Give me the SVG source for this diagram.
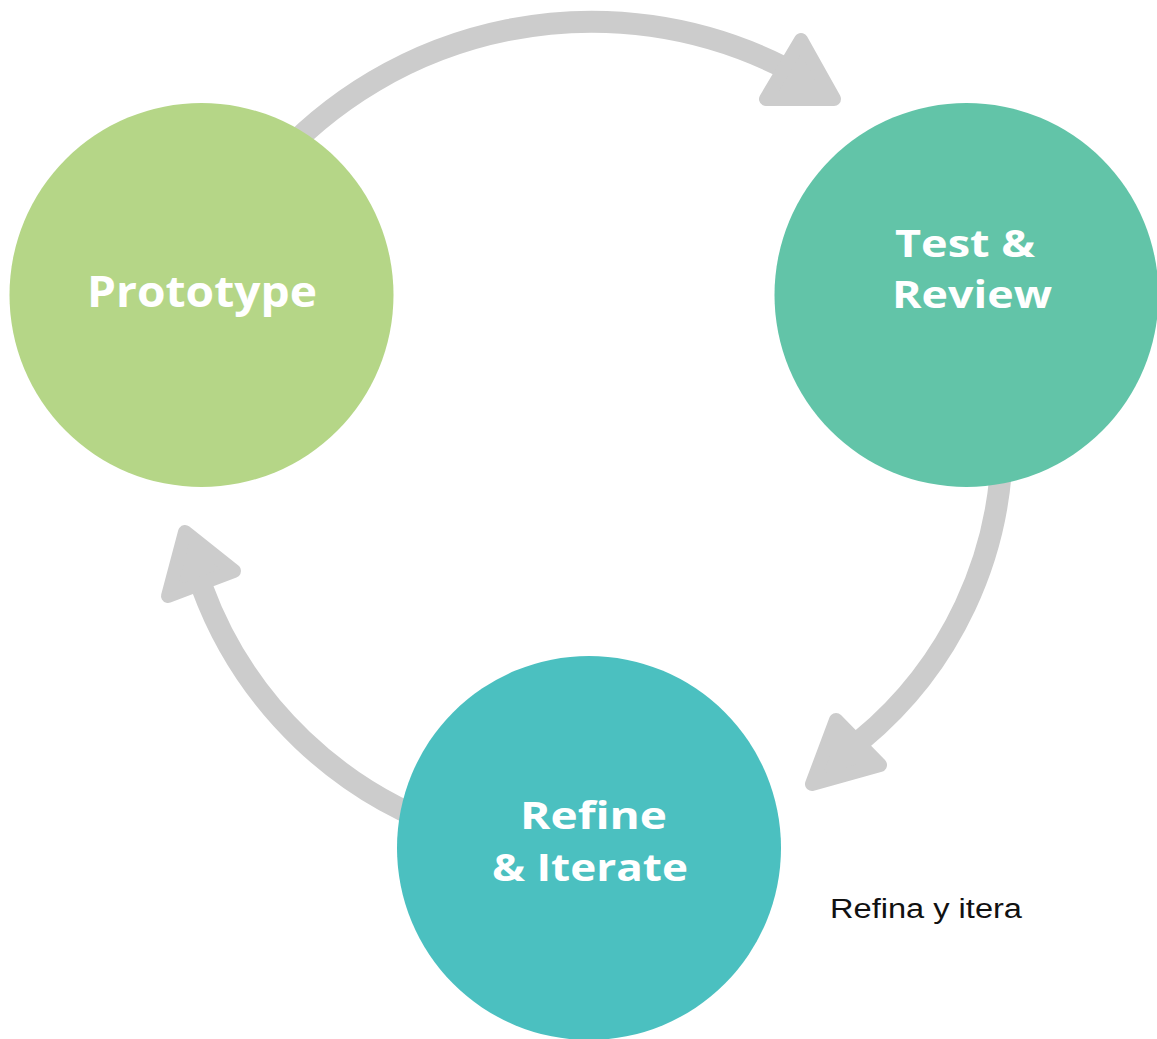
<svg xmlns="http://www.w3.org/2000/svg" width="1157" height="1039" viewBox="0 0 1157 1039">
<style>
.arc{fill:none;stroke:#CCCCCC;stroke-width:22}
.head{fill:#CCCCCC;stroke:#CCCCCC;stroke-width:14;stroke-linejoin:round}
.lbl{font-family:"Open Sans","Liberation Sans",sans-serif;font-weight:700;font-size:38px;fill:#FFFFFF;text-anchor:middle}
.big{font-size:43px}
.note{font-family:"Liberation Sans","DejaVu Sans",sans-serif;font-size:27px;fill:#111111}
</style>
<rect width="1157" height="1039" fill="#FFFFFF"/>
<g id="connectors">
  <path class="arc" d="M270,168 A427,427 0 0 1 781,66"/>
  <polygon class="head" points="801,40 766,99 834,99"/>
  <path class="arc" d="M1002,440 A388,388 0 0 1 861,740"/>
  <polygon class="head" points="836,720 812,784 880,765"/>
  <path class="arc" d="M460,833 A404,404 0 0 1 202,587"/>
  <polygon class="head" points="185,532 168,596 234,571"/>
</g>
<g id="node-prototype">
  <circle cx="201.5" cy="295" r="192" fill="#B5D687"/>
  <text class="lbl big" x="202" y="307" textLength="230" lengthAdjust="spacingAndGlyphs">Prototype</text>
</g>
<g id="node-test-review">
  <circle cx="966.5" cy="295" r="192" fill="#62C4A8"/>
  <text class="lbl" x="965" y="257" textLength="140" lengthAdjust="spacingAndGlyphs">Test &amp;</text>
  <text class="lbl" x="972" y="308" textLength="160" lengthAdjust="spacingAndGlyphs">Review</text>
</g>
<g id="node-refine">
  <circle cx="589" cy="848" r="192" fill="#4BC0C0"/>
  <text class="lbl" x="593.5" y="829" textLength="147" lengthAdjust="spacingAndGlyphs">Refine</text>
  <text class="lbl" x="590" y="881" textLength="196" lengthAdjust="spacingAndGlyphs">&amp; Iterate</text>
</g>
<text class="note" x="830" y="918" textLength="192" lengthAdjust="spacingAndGlyphs">Refina y itera</text>
</svg>
